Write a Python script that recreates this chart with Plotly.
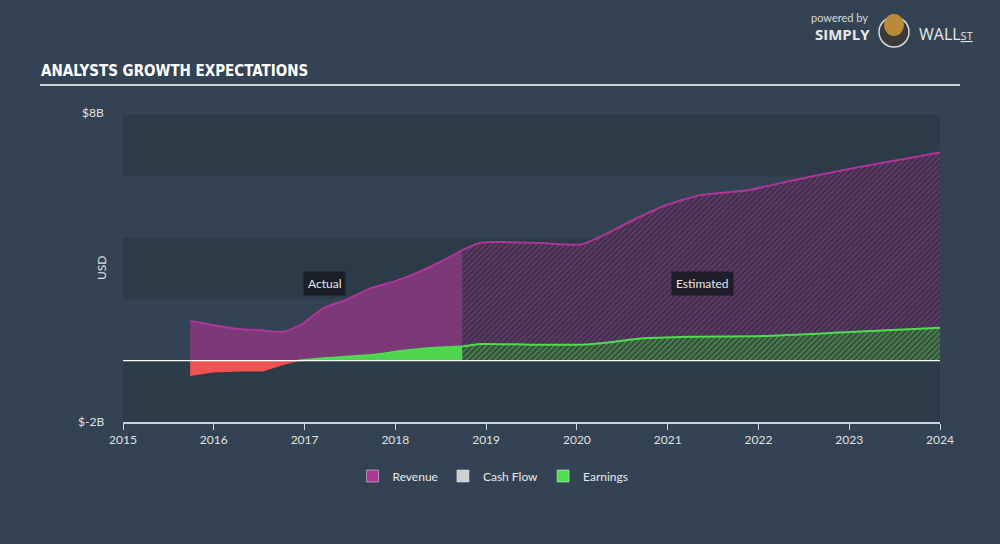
import plotly.graph_objects as go

# ---- data (USD billions, x in decimal years) ----
rev_act_x = [2015.74, 2015.99, 2016.22, 2016.54, 2016.77, 2016.96, 2017.21, 2017.45, 2017.73, 2018.0, 2018.23, 2018.5, 2018.74]
rev_act_y = [1.29, 1.16, 1.05, 0.98, 0.94, 1.16, 1.71, 1.97, 2.36, 2.59, 2.85, 3.22, 3.60]

rev_est_x = [2018.74, 2018.94, 2019.16, 2019.6, 2020.04, 2020.34, 2020.62, 2020.99, 2021.36, 2021.88, 2022.35, 2022.79, 2023.34, 2024.0]
rev_est_y = [3.60, 3.84, 3.86, 3.83, 3.78, 4.15, 4.58, 5.07, 5.39, 5.55, 5.85, 6.12, 6.43, 6.78]

earn_neg_x = [2015.74, 2015.99, 2016.3, 2016.54, 2016.77, 2016.93]
earn_neg_y = [-0.48, -0.36, -0.33, -0.33, -0.11, 0.0]

earn_act_x = [2016.93, 2017.18, 2017.73, 2018.06, 2018.39, 2018.74]
earn_act_y = [0.0, 0.07, 0.18, 0.31, 0.41, 0.46]

earn_est_x = [2018.74, 2018.94, 2019.49, 2020.04, 2020.37, 2020.7, 2021.25, 2022.06, 2023.01, 2024.0]
earn_est_y = [0.46, 0.54, 0.52, 0.52, 0.60, 0.72, 0.78, 0.80, 0.93, 1.07]

year_ticks = list(range(2015, 2025))
y_bands = [(6, 8), (2, 4), (-2, 0)]

BG = "#344353"
FONT = "Lato, 'Open Sans', sans-serif"


def py(px):
    """pixel row -> paper y"""
    return (544 - px - 122) / 307


def px_(x):
    """pixel column -> paper x"""
    return (x - 123) / 817


fig = go.Figure()

# Revenue
fig.add_trace(go.Scatter(x=rev_act_x, y=rev_act_y, mode="lines", fill="tozeroy",
                         line=dict(color="#b0359a", width=2, shape="spline", smoothing=0.6),
                         fillcolor="#7b3a77", showlegend=False, hoverinfo="skip"))
fig.add_trace(go.Scatter(x=rev_est_x, y=rev_est_y, mode="lines", fill="tozeroy",
                         line=dict(color="#b0359a", width=2, shape="spline", smoothing=0.6),
                         fillcolor="#3c3350",
                         fillpattern=dict(shape="/", fgcolor="#963e8c", bgcolor="#3b324a",
                                          size=4, solidity=0.45),
                         showlegend=False, hoverinfo="skip"))
# Earnings
fig.add_trace(go.Scatter(x=earn_neg_x, y=earn_neg_y, mode="lines", fill="tozeroy",
                         line=dict(color="#f05252", width=1.5),
                         fillcolor="#f05252", showlegend=False, hoverinfo="skip"))
fig.add_trace(go.Scatter(x=earn_act_x, y=earn_act_y, mode="lines", fill="tozeroy",
                         line=dict(color="#4fdc4f", width=2, shape="spline", smoothing=0.6),
                         fillcolor="#4fd44f", showlegend=False, hoverinfo="skip"))
fig.add_trace(go.Scatter(x=earn_est_x, y=earn_est_y, mode="lines", fill="tozeroy",
                         line=dict(color="#4fdc4f", width=2, shape="spline", smoothing=0.6),
                         fillcolor="#3b5040",
                         fillpattern=dict(shape="/", fgcolor="#58c858", bgcolor="#384a3e",
                                          size=4, solidity=0.45),
                         showlegend=False, hoverinfo="skip"))

# Legend entries
for name, col in [("Revenue", "#ad3592"), ("Cash Flow", "#cfcfcf"), ("Earnings", "#4fe04f")]:
    fig.add_trace(go.Bar(x=[None], y=[None], name=name, marker=dict(color=col), showlegend=True))

shapes = []
for lo, hi in y_bands:
    shapes.append(dict(type="rect", xref="paper", yref="y", x0=0, x1=1, y0=lo, y1=hi,
                       fillcolor="rgba(30,40,52,0.28)", line=dict(width=0), layer="below"))
shapes.append(dict(type="line", xref="paper", yref="y", x0=0, x1=1, y0=0, y1=0,
                   line=dict(color="#ffffff", width=1.3), layer="above"))
# title underline
shapes.append(dict(type="line", xref="paper", yref="paper", x0=px_(40), x1=px_(960),
                   y0=py(85), y1=py(85), line=dict(color="#ffffff", width=1.3)))

annotations = [
    dict(text="ANALYSTS GROWTH EXPECTATIONS", xref="paper", yref="paper",
         x=px_(39), y=py(71), xanchor="left", yanchor="middle",
         showarrow=False,
         font=dict(family="'DejaVu Sans Condensed', 'Liberation Sans Narrow', sans-serif",
                   size=15, color="#ffffff", weight="bold")),
    dict(text="$8B", xref="paper", yref="paper", x=px_(106), y=py(112), xanchor="right",
         yanchor="middle", showarrow=False, font=dict(family=FONT, size=12, color="#e0e0e0")),
    dict(text="$-2B", xref="paper", yref="paper", x=px_(106), y=py(421), xanchor="right",
         yanchor="middle", showarrow=False, font=dict(family=FONT, size=12, color="#e0e0e0")),
    dict(text="USD", xref="paper", yref="paper", x=px_(101), y=py(268), textangle=-90,
         xanchor="center", yanchor="middle", showarrow=False,
         font=dict(family=FONT, size=12, color="#e0e0e0")),
    dict(text="Actual", x=2017.22, y=2.5, xref="x", yref="y", showarrow=False,
         bgcolor="rgba(22,26,34,0.85)", borderpad=4,
         font=dict(family=FONT, size=12, color="#e8e8e8")),
    dict(text="Estimated", x=2021.38, y=2.5, xref="x", yref="y", showarrow=False,
         bgcolor="rgba(22,26,34,0.85)", borderpad=4,
         font=dict(family=FONT, size=12, color="#e8e8e8")),
    # logo
    dict(text="powered by", xref="paper", yref="paper", x=px_(839),
         y=py(17), xanchor="center", yanchor="middle", showarrow=False,
         font=dict(family=FONT, size=11, color="#d8d8d8")),
    dict(text="<b>SIMPLY</b>", xref="paper", yref="paper", x=px_(842),
         y=py(34), xanchor="center", yanchor="middle", showarrow=False,
         font=dict(family="'Open Sans', sans-serif", size=15, color="#e8e8e8")),
    dict(text="WALL<span style='font-size:11px'><u>ST</u></span>", xref="paper", yref="paper",
         x=px_(946), y=py(34), xanchor="center", yanchor="middle",
         showarrow=False, font=dict(family="'Open Sans', sans-serif", size=16, color="#e8e8e8")),
]

# bull badge (simple)
shapes.append(dict(type="circle", xref="paper", yref="paper",
                   x0=px_(879), x1=px_(909), y0=py(47), y1=py(17),
                   fillcolor="#3a3a3a", line=dict(color="#d8d8d8", width=1.5)))
shapes.append(dict(type="circle", xref="paper", yref="paper",
                   x0=px_(884), x1=px_(904), y0=py(36), y1=py(14),
                   fillcolor="#b88a3a", line=dict(width=0)))

fig.update_layout(
    width=1000, height=544,
    margin=dict(l=123, r=60, t=115, b=122),
    paper_bgcolor=BG, plot_bgcolor=BG,
    shapes=shapes, annotations=annotations,
    xaxis=dict(range=[2015, 2024], tickmode="array", tickvals=year_ticks,
               ticktext=[str(y) for y in year_ticks], showgrid=False, zeroline=False,
               showline=True, linecolor="#c8d4e0", linewidth=1.5, ticks="outside",
               ticklen=6, tickcolor="#c8d4e0", tickfont=dict(family=FONT, size=12, color="#e0e0e0")),
    yaxis=dict(range=[-2, 8], showgrid=False, zeroline=False, showticklabels=False,
               showline=False),
    legend=dict(orientation="h", x=px_(493), xanchor="center",
                y=-(476 - 422) / 307, yanchor="middle",
                font=dict(family=FONT, size=12, color="#e8e8e8"), bgcolor="rgba(0,0,0,0)",
                itemwidth=30),
    showlegend=True,
)

fig.write_html("out.html")
